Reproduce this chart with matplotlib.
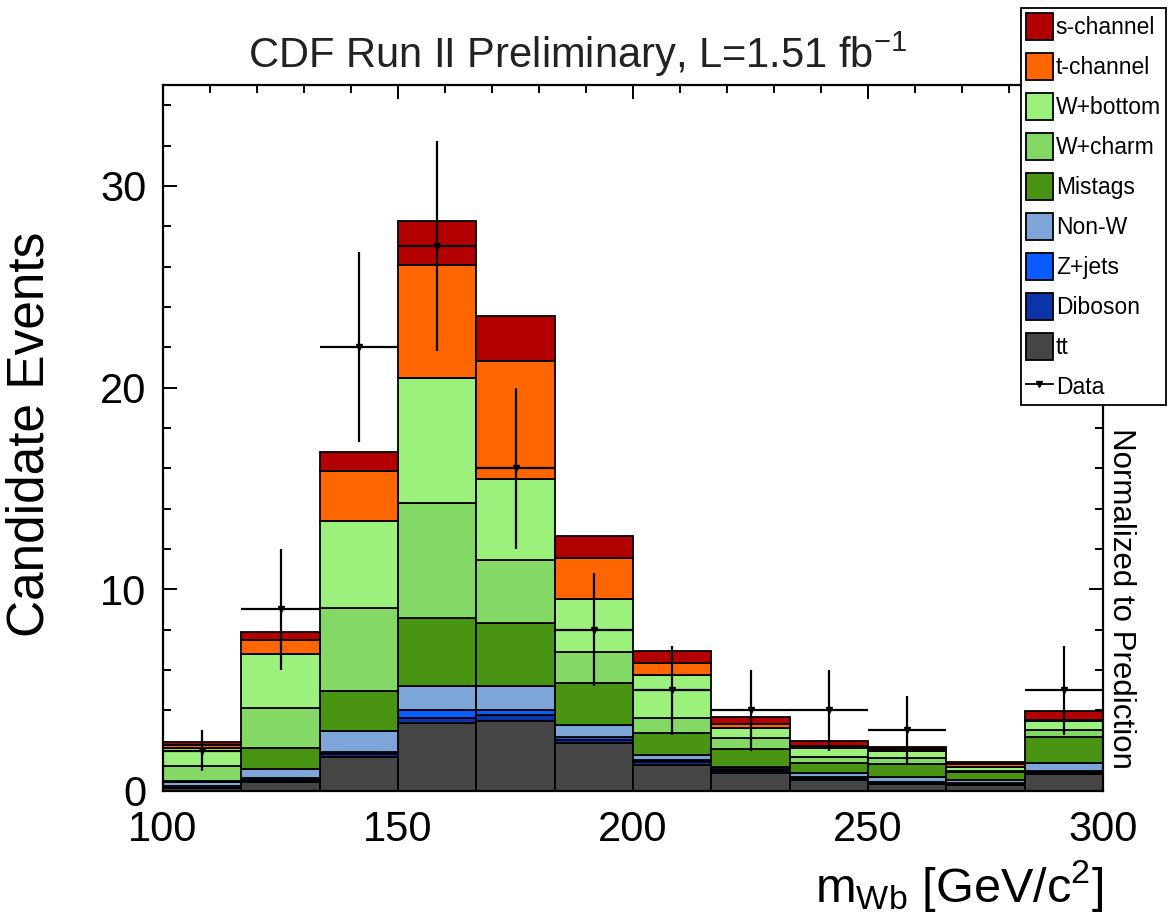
import matplotlib
matplotlib.use("Agg")
import matplotlib.pyplot as plt
from matplotlib.patches import Patch
from matplotlib.lines import Line2D
from matplotlib.ticker import MultipleLocator
import numpy as np

# Output size
WIDTH_PX = 1170
HEIGHT_PX = 922
DPI = 100

# Binning of m_Wb (GeV/c^2)
X_MIN = 100
X_MAX = 300
N_BINS = 12

# Expected events per bin, one list per process (stacked bottom -> top)
TTBAR = [0.15, 0.45, 1.70, 3.37, 3.45, 2.37, 1.30, 0.88, 0.55, 0.36, 0.30, 0.85]
DIBOSON = [0.07, 0.10, 0.15, 0.23, 0.33, 0.18, 0.15, 0.10, 0.08, 0.06, 0.05, 0.07]
ZJETS = [0.05, 0.07, 0.10, 0.40, 0.22, 0.12, 0.10, 0.10, 0.08, 0.04, 0.05, 0.08]
NON_W = [0.18, 0.46, 1.00, 1.19, 1.19, 0.61, 0.24, 0.13, 0.17, 0.25, 0.13, 0.38]
MISTAGS = [0.05, 1.07, 1.99, 3.37, 3.15, 2.08, 1.08, 0.87, 0.50, 0.62, 0.43, 1.32]
W_CHARM = [0.74, 1.95, 4.15, 5.74, 3.10, 1.52, 0.75, 0.54, 0.32, 0.30, 0.04, 0.33]
W_BOTTOM = [0.91, 2.71, 4.31, 6.15, 4.03, 2.62, 2.15, 0.48, 0.44, 0.37, 0.21, 0.42]
T_CHANNEL = [0.15, 0.66, 2.44, 5.65, 5.83, 2.03, 0.58, 0.20, 0.11, 0.10, 0.12, 0.08]
S_CHANNEL = [0.14, 0.42, 0.96, 2.14, 2.25, 1.09, 0.57, 0.37, 0.25, 0.10, 0.13, 0.42]

# Observed data and its error
DATA = [2, 9, 22, 27, 16, 8, 5, 4, 4, 3, 0, 5]
DATA_ERR = [1.0, 3.0, 4.7, 5.2, 4.0, 2.8, 2.2, 2.0, 2.0, 1.7, 0.0, 2.2]

# Stack order (bottom -> top): name, values, colour
STACK = [
	("tt", TTBAR, "#454545"),
	("Diboson", DIBOSON, "#0a34a8"),
	("Z+jets", ZJETS, "#0a5cff"),
	("Non-W", NON_W, "#7ea5d8"),
	("Mistags", MISTAGS, "#4a9414"),
	("W+charm", W_CHARM, "#84d966"),
	("W+bottom", W_BOTTOM, "#9cf07c"),
	("t-channel", T_CHANNEL, "#ff6600"),
	("s-channel", S_CHANNEL, "#b30000"),
]


def main():
	plt.rcParams["font.family"] = ["Liberation Sans", "DejaVu Sans"]
	plt.rcParams["mathtext.fontset"] = "custom"
	plt.rcParams["mathtext.rm"] = "Liberation Sans"
	plt.rcParams["mathtext.it"] = "Liberation Sans:italic"

	fig = plt.figure(figsize=(WIDTH_PX / DPI, HEIGHT_PX / DPI), dpi=DPI)
	ax = fig.add_axes([163 / WIDTH_PX, 1 - 791 / HEIGHT_PX, 940 / WIDTH_PX, 706 / HEIGHT_PX])

	edges = np.linspace(X_MIN, X_MAX, N_BINS + 1)
	width = edges[1] - edges[0]
	centres = edges[:-1] + width / 2

	# Stacked histogram of the prediction
	bottom = np.zeros(N_BINS)
	for name, values, colour in STACK:
		ax.bar(edges[:-1], values, width=width, bottom=bottom, align="edge",
			color=colour, edgecolor="black", linewidth=1.3, zorder=2)
		bottom = bottom + np.array(values)

	# Data points (empty bins are not drawn)
	data = np.array(DATA, dtype=float)
	err = np.array(DATA_ERR)
	mask = data > 0
	ax.errorbar(centres[mask], data[mask], yerr=err[mask], xerr=width / 2,
		fmt="v", color="black", markersize=5, elinewidth=1.6, capsize=0, zorder=4)

	ax.set_xlim(X_MIN, X_MAX)
	ax.set_ylim(0, 35)
	ax.xaxis.set_major_locator(MultipleLocator(50))
	ax.xaxis.set_minor_locator(MultipleLocator(10))
	ax.yaxis.set_major_locator(MultipleLocator(10))
	ax.yaxis.set_minor_locator(MultipleLocator(2))
	ax.tick_params(which="both", direction="in", top=True, right=True, width=1.4)
	ax.tick_params(which="major", length=10, labelsize=30)
	ax.tick_params(axis="x", which="major", pad=14)
	ax.tick_params(axis="y", which="major", pad=12)
	ax.tick_params(which="minor", length=6)
	for spine in ax.spines.values():
		spine.set_linewidth(1.6)

	ax.set_ylabel("Candidate Events", fontsize=37)
	ax.yaxis.set_label_coords(-0.115, 0.505)
	ax.set_xlabel(r"m$_{\mathregular{Wb}}$ [GeV/c$^{\mathregular{2}}$]", fontsize=35)
	ax.xaxis.set_label_coords(1.0, -0.095)
	ax.xaxis.label.set_horizontalalignment("right")

	fig.text(578 / WIDTH_PX, 1 - 68 / HEIGHT_PX, r"CDF Run II Preliminary, L=1.51 fb$^{\mathregular{-1}}$",
		ha="center", va="baseline", fontsize=30, color="#222222")
	fig.text(1121 / WIDTH_PX, 1 - 598 / HEIGHT_PX, "Normalized to Prediction",
		rotation=-90, ha="center", va="center", fontsize=22.5)

	# Legend: top of the stack first
	handles = [Patch(facecolor=c, edgecolor="black", linewidth=1.3) for _, _, c in reversed(STACK)]
	labels = [n for n, _, _ in reversed(STACK)]
	handles.append(Line2D([], [], color="black", marker="v", markersize=4, linewidth=1.3))
	labels.append("Data")
	leg = fig.legend(handles, labels, loc="upper left", bbox_to_anchor=(1021 / WIDTH_PX, 1 - 8 / HEIGHT_PX),
		fontsize=16.5, frameon=True, fancybox=False, edgecolor="black", framealpha=1,
		handlelength=1.2, handleheight=1.45, handletextpad=0.12, labelspacing=0.56,
		borderpad=0.2, borderaxespad=0)
	leg.get_frame().set_linewidth(1.3)

	plt.savefig("out.png", dpi=DPI)


if __name__ == "__main__":
	main()
